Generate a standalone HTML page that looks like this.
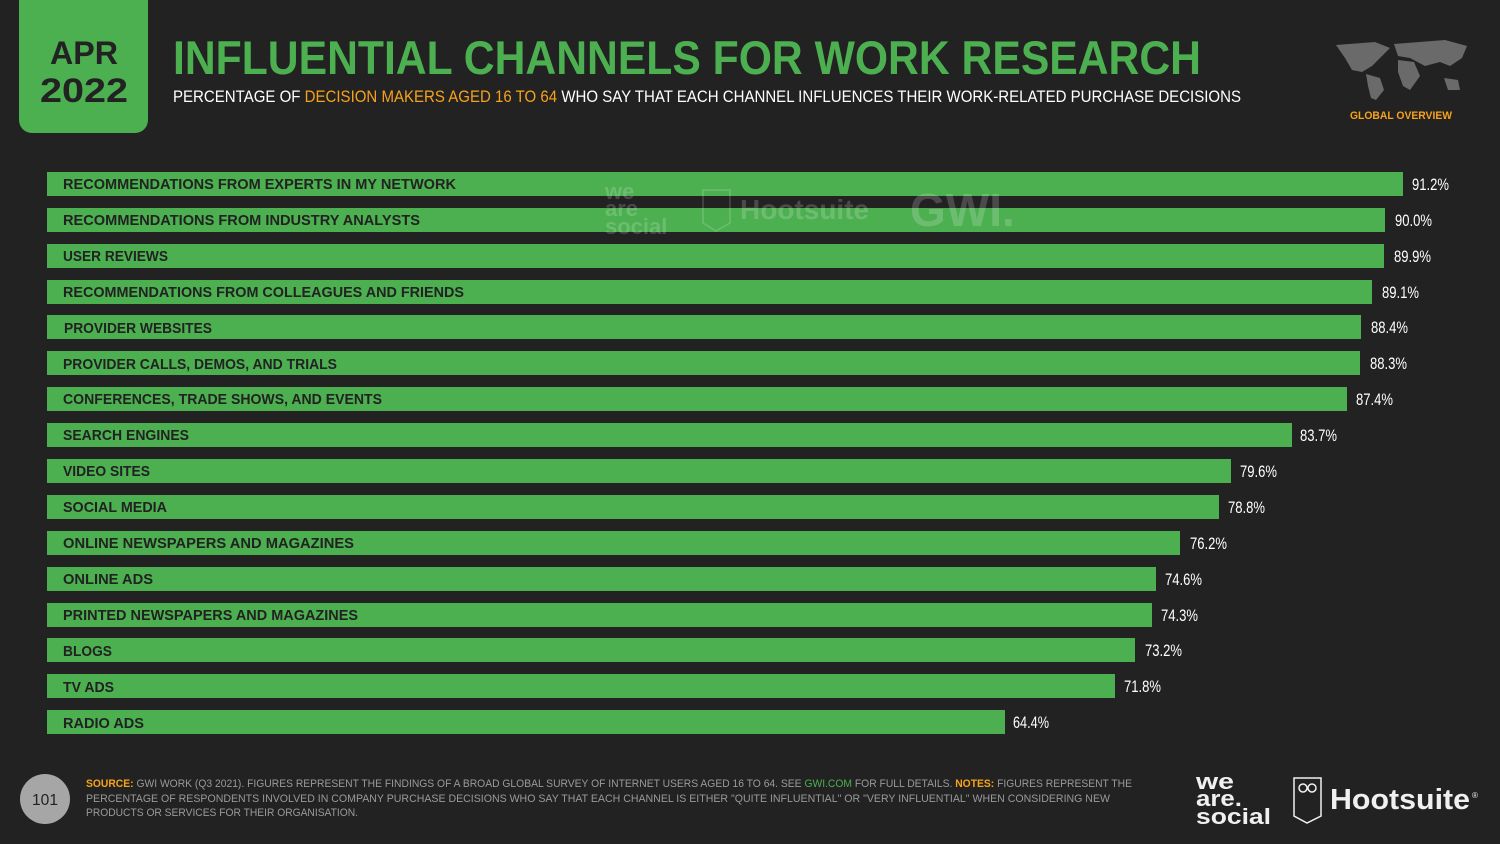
<!DOCTYPE html>
<html><head><meta charset="utf-8"><style>
html,body{margin:0;padding:0;background:#222222;}
svg{display:block;}
text{font-family:"Liberation Sans",sans-serif;}
</style></head><body>
<svg width="1500" height="844" viewBox="0 0 1500 844" xmlns="http://www.w3.org/2000/svg">
<rect width="1500" height="844" fill="#222222"/>
<!-- date badge -->
<path d="M19 0 H148 V120 a13 13 0 0 1 -13 13 H32 a13 13 0 0 1 -13 -13 Z" fill="#4CAF50"/>
<text x="84" y="64" text-anchor="middle" font-size="32" font-weight="bold" fill="#222" textLength="68" lengthAdjust="spacingAndGlyphs">APR</text>
<text x="84" y="102" text-anchor="middle" font-size="34" font-weight="bold" fill="#222" textLength="88" lengthAdjust="spacingAndGlyphs">2022</text>
<!-- title -->
<text x="173" y="74" font-size="47" font-weight="bold" fill="#4CAF50" textLength="1028" lengthAdjust="spacingAndGlyphs">INFLUENTIAL CHANNELS FOR WORK RESEARCH</text>
<text x="173" y="102" font-size="17" fill="#ffffff" textLength="1068" lengthAdjust="spacingAndGlyphs">PERCENTAGE OF <tspan fill="#F7A21B">DECISION MAKERS AGED 16 TO 64</tspan> WHO SAY THAT EACH CHANNEL INFLUENCES THEIR WORK-RELATED PURCHASE DECISIONS</text>
<!-- world map approx -->
<g fill="#6a6a6a">
<path d="M1336 45 L1375 42 L1390 48 L1380 58 L1372 66 L1362 72 L1352 70 L1345 58 Z"/>
<path d="M1366 74 L1380 78 L1384 90 L1376 100 L1371 98 L1368 86 Z"/>
<path d="M1394 44 L1445 40 L1467 46 L1462 58 L1450 66 L1440 62 L1425 66 L1410 58 L1398 56 Z"/>
<path d="M1398 60 L1414 62 L1420 76 L1410 90 L1403 86 L1398 72 Z"/>
<path d="M1444 78 L1458 80 L1460 90 L1448 90 Z"/>
</g>
<text x="1401" y="119" text-anchor="middle" font-size="11" font-weight="bold" fill="#F7A21B" textLength="102" lengthAdjust="spacingAndGlyphs">GLOBAL OVERVIEW</text>
<!-- bars -->
<g font-size="15" font-weight="bold" fill="#4CAF50">
<rect x="47" y="172" width="1356" height="24"/>
<rect x="47" y="208" width="1338" height="24"/>
<rect x="47" y="244" width="1337" height="24"/>
<rect x="47" y="280" width="1325" height="24"/>
<rect x="47" y="315" width="1314" height="24"/>
<rect x="47" y="351" width="1313" height="24"/>
<rect x="47" y="387" width="1300" height="24"/>
<rect x="47" y="423" width="1245" height="24"/>
<rect x="47" y="459" width="1184" height="24"/>
<rect x="47" y="495" width="1172" height="24"/>
<rect x="47" y="531" width="1133" height="24"/>
<rect x="47" y="567" width="1109" height="24"/>
<rect x="47" y="603" width="1105" height="24"/>
<rect x="47" y="638" width="1088" height="24"/>
<rect x="47" y="674" width="1068" height="24"/>
<rect x="47" y="710" width="958" height="24"/>
</g>
<!-- watermark -->
<g fill="#ffffff" opacity="0.18" font-weight="bold">
<text x="605" y="199" font-size="22">we</text>
<text x="605" y="216" font-size="22">are</text>
<text x="605" y="234" font-size="22">social</text>
<path d="M703 190 h27 v33 l-14 8 l-13 -8 Z" fill="none" stroke="#fff" stroke-width="1.5"/>
<text x="740" y="219" font-size="28">Hootsuite</text>
<text x="910" y="226" font-size="46">GWI.</text>
</g>
<g font-size="15" font-weight="bold" fill="#222">
<text x="63" y="189" textLength="393" lengthAdjust="spacingAndGlyphs">RECOMMENDATIONS FROM EXPERTS IN MY NETWORK</text>
<text x="63" y="225" textLength="357" lengthAdjust="spacingAndGlyphs">RECOMMENDATIONS FROM INDUSTRY ANALYSTS</text>
<text x="63" y="261" textLength="105" lengthAdjust="spacingAndGlyphs">USER REVIEWS</text>
<text x="63" y="297" textLength="401" lengthAdjust="spacingAndGlyphs">RECOMMENDATIONS FROM COLLEAGUES AND FRIENDS</text>
<text x="64" y="333" textLength="148" lengthAdjust="spacingAndGlyphs">PROVIDER WEBSITES</text>
<text x="63" y="369" textLength="274" lengthAdjust="spacingAndGlyphs">PROVIDER CALLS, DEMOS, AND TRIALS</text>
<text x="63" y="404" textLength="319" lengthAdjust="spacingAndGlyphs">CONFERENCES, TRADE SHOWS, AND EVENTS</text>
<text x="63" y="440" textLength="126" lengthAdjust="spacingAndGlyphs">SEARCH ENGINES</text>
<text x="63" y="476" textLength="87" lengthAdjust="spacingAndGlyphs">VIDEO SITES</text>
<text x="63" y="512" textLength="104" lengthAdjust="spacingAndGlyphs">SOCIAL MEDIA</text>
<text x="63" y="548" textLength="291" lengthAdjust="spacingAndGlyphs">ONLINE NEWSPAPERS AND MAGAZINES</text>
<text x="63" y="584" textLength="90" lengthAdjust="spacingAndGlyphs">ONLINE ADS</text>
<text x="63" y="620" textLength="295" lengthAdjust="spacingAndGlyphs">PRINTED NEWSPAPERS AND MAGAZINES</text>
<text x="63" y="656" textLength="49" lengthAdjust="spacingAndGlyphs">BLOGS</text>
<text x="63" y="692" textLength="51" lengthAdjust="spacingAndGlyphs">TV ADS</text>
<text x="63" y="728" textLength="81" lengthAdjust="spacingAndGlyphs">RADIO ADS</text>
</g>
<g font-size="17" fill="#fff">
<text x="1412" y="190" textLength="37" lengthAdjust="spacingAndGlyphs">91.2%</text>
<text x="1395" y="226" textLength="37" lengthAdjust="spacingAndGlyphs">90.0%</text>
<text x="1394" y="262" textLength="37" lengthAdjust="spacingAndGlyphs">89.9%</text>
<text x="1382" y="298" textLength="37" lengthAdjust="spacingAndGlyphs">89.1%</text>
<text x="1371" y="333" textLength="37" lengthAdjust="spacingAndGlyphs">88.4%</text>
<text x="1370" y="369" textLength="37" lengthAdjust="spacingAndGlyphs">88.3%</text>
<text x="1356" y="405" textLength="37" lengthAdjust="spacingAndGlyphs">87.4%</text>
<text x="1300" y="441" textLength="37" lengthAdjust="spacingAndGlyphs">83.7%</text>
<text x="1240" y="477" textLength="37" lengthAdjust="spacingAndGlyphs">79.6%</text>
<text x="1228" y="513" textLength="37" lengthAdjust="spacingAndGlyphs">78.8%</text>
<text x="1190" y="549" textLength="37" lengthAdjust="spacingAndGlyphs">76.2%</text>
<text x="1165" y="585" textLength="37" lengthAdjust="spacingAndGlyphs">74.6%</text>
<text x="1161" y="621" textLength="37" lengthAdjust="spacingAndGlyphs">74.3%</text>
<text x="1145" y="656" textLength="37" lengthAdjust="spacingAndGlyphs">73.2%</text>
<text x="1124" y="692" textLength="37" lengthAdjust="spacingAndGlyphs">71.8%</text>
<text x="1013" y="728" textLength="36" lengthAdjust="spacingAndGlyphs">64.4%</text>
</g>
<!-- footer -->
<circle cx="45" cy="799" r="25" fill="#a6a6a6"/>
<text x="45" y="805" text-anchor="middle" font-size="16" fill="#222" textLength="26" lengthAdjust="spacingAndGlyphs">101</text>
<g font-size="11" fill="#9a9a9a">
<text x="86" y="787" textLength="1046" lengthAdjust="spacingAndGlyphs"><tspan fill="#F7A21B" font-weight="bold">SOURCE:</tspan> GWI WORK (Q3 2021). FIGURES REPRESENT THE FINDINGS OF A BROAD GLOBAL SURVEY OF INTERNET USERS AGED 16 TO 64. SEE <tspan fill="#4CAF50">GWI.COM</tspan> FOR FULL DETAILS. <tspan fill="#F7A21B" font-weight="bold">NOTES:</tspan> FIGURES REPRESENT THE</text>
<text x="86" y="802" textLength="1024" lengthAdjust="spacingAndGlyphs">PERCENTAGE OF RESPONDENTS INVOLVED IN COMPANY PURCHASE DECISIONS WHO SAY THAT EACH CHANNEL IS EITHER "QUITE INFLUENTIAL" OR "VERY INFLUENTIAL" WHEN CONSIDERING NEW</text>
<text x="86" y="816" textLength="272" lengthAdjust="spacingAndGlyphs">PRODUCTS OR SERVICES FOR THEIR ORGANISATION.</text>
</g>
<g fill="#f0f0f0" font-weight="bold">
<text x="1196" y="789" font-size="22" textLength="38" lengthAdjust="spacingAndGlyphs">we</text>
<text x="1196" y="806" font-size="22" textLength="46" lengthAdjust="spacingAndGlyphs">are.</text>
<text x="1196" y="824" font-size="22" textLength="75" lengthAdjust="spacingAndGlyphs">social</text>
<path d="M1294 778 h27 v38 l-14 7 l-13 -7 Z" fill="none" stroke="#f0f0f0" stroke-width="1.5"/>
<circle cx="1303" cy="788" r="4" fill="none" stroke="#f0f0f0" stroke-width="1.5"/>
<circle cx="1312" cy="788" r="4" fill="none" stroke="#f0f0f0" stroke-width="1.5"/>
<text x="1330" y="809" font-size="29" textLength="140" lengthAdjust="spacingAndGlyphs">Hootsuite</text>
<text x="1472" y="798" font-size="8" font-weight="normal">®</text>
</g>
</svg>
</body></html>
